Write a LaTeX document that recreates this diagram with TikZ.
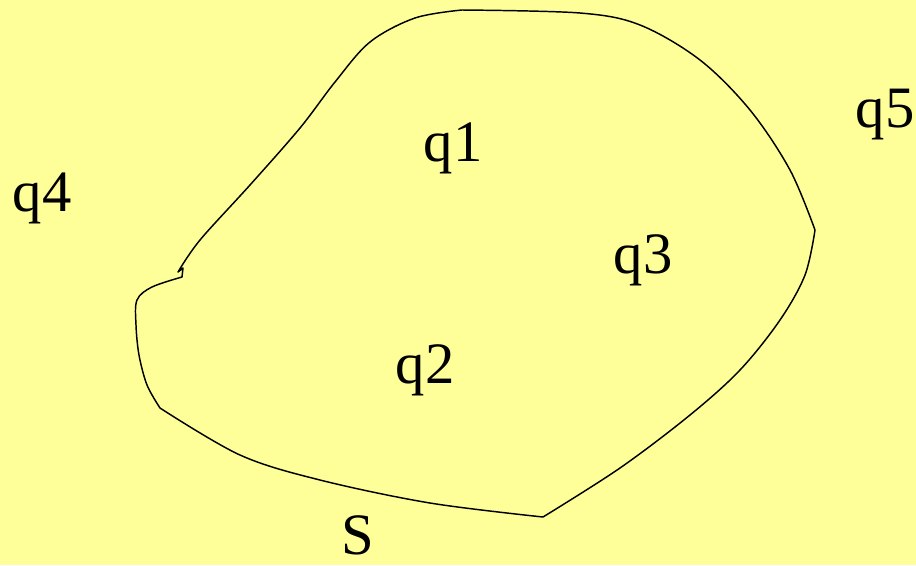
\documentclass[tikz,border=0pt]{standalone}
\usepackage{fontspec}
\setmainfont{Liberation Serif}
\usetikzlibrary{positioning}

\begin{document}
\begin{tikzpicture}[x=0.75pt,y=-0.75pt,
  charge/.style={inner sep=0pt,font=\fontsize{44}{50}\selectfont},
  surface/.style={draw=black,line width=1.1pt,line join=round}]
\definecolor{paleyellow}{RGB}{255,255,153}
\fill[paleyellow] (0,0) rectangle (916,565);
\useasboundingbox (0,0) rectangle (916,565);
\draw[surface] plot[smooth,tension=.55] coordinates {(178,272) (200,240) (250,185) (300,128) (335,82) (370,42) (415,18) (462,10)}
  -- plot[smooth,tension=.55] coordinates {(462,10) (580,13) (640,25) (700,60) (750,110) (790,170) (815,230)}
  -- plot[smooth,tension=.55] coordinates {(815,230) (805,275) (780,320) (740,370) (690,415) (620,468) (543,517)}
  -- plot[smooth,tension=.55] coordinates {(543,517) (430,503) (320,480) (240,455) (160,408)}
  -- plot[smooth,tension=.55] coordinates {(160,408) (147,385) (139,355) (136,325) (137,300) (152,287) (182,277)}
  -- (183,268) -- cycle;
\node[charge] (q1) at (453,148) {q1};
\node[charge] (q2) at (425,370) {q2};
\node[charge] (q3) at (643,260) {q3};
\node[charge] (q4) at (42,198) {q4};
\node[charge] (q5) at (885,115) {q5};
\node[charge] (s) at (358,535) {S};
\end{tikzpicture}
\end{document}
